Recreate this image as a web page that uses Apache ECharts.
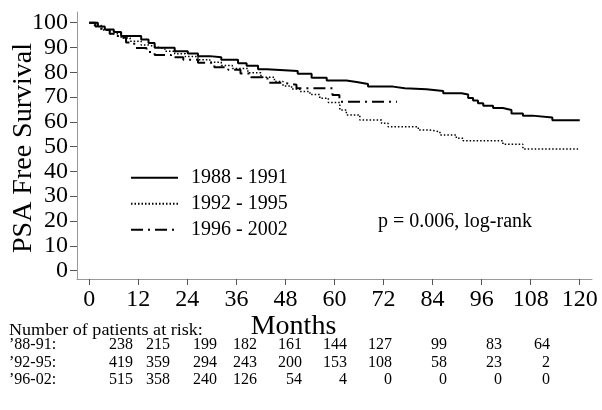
<!DOCTYPE html>
<html>
<head>
<meta charset="utf-8">
<script src="https://cdn.jsdelivr.net/npm/echarts@6/dist/echarts.min.js"></script>
<style>
html,body{margin:0;padding:0;background:#fff;}
#chart{width:602px;height:410px;}
</style>
</head>
<body>
<div id="chart"></div>
<script>
// ---- data ----
const seriesNames = ['1988 - 1991', '1992 - 1995', '1996 - 2002'];
const xTicks = [0, 12, 24, 36, 48, 60, 72, 84, 96, 108, 120];
const yTicks = [0, 10, 20, 30, 40, 50, 60, 70, 80, 90, 100];

// [month, survival %] at each step
const surv8891 = [
  [0,100],[2.1,98.5],[3.8,97.2],[6,96.2],[7.8,94.6],[12.7,93.2],[14.5,91.8],[16,89.9],
  [20.9,88.5],[24.1,87.6],[26.6,86.5],[29.5,86],[32.3,85],[36.4,83.6],[38.5,82.6],
  [41.3,81.2],[43.4,80.5],[51,79.4],[54.4,77.8],[58.1,76.7],[62.9,76.1],[65.4,75.3],
  [68.2,74.2],[74.3,73.5],[77.2,73.1],[82.5,72.4],[86.6,71.5],[91.1,71.0],[92.7,69.6],
  [93.9,68.6],[95.1,67.5],[96.4,66.5],[98.8,65.6],[101.2,64.8],[103.3,63.4],
  [106.1,62.5],[108.4,61.7],[113.3,60.6],[120,60.6]
];
const surv9295 = [
  [0,100],[1,99],[2.9,97],[5,95.5],[7.8,93.8],[10,92.5],[12.7,91],[14.5,90.3],[16,89.5],
  [18.5,88.5],[20.9,87.5],[23.5,86.3],[26.6,85],[29.5,84],[32.3,82.7],[35,81.5],
  [38.8,79.8],[42,78],[45.3,76.3],[47.4,74.5],[49.5,73.2],[51.5,72.2],[54,71],[56.4,69.5],
  [58.5,67.8],[61.3,64.8],[62.9,62.8],[66.2,60.7],[71.5,59.4],[73.1,58.0],[80.5,56.7],
  [83.3,56.0],[85.8,54.7],[89.8,53.4],[91.5,52.4],[101.2,51.0],[106.1,49.0],[119.6,49.0]
];
const surv9602 = [
  [0,100],[1.5,98.5],[3,97],[5,95.5],[7,94],[9,92],[11,89.8],[14,88.2],[16,87],[20,86],
  [23,85],[26.6,83.8],[30.6,82],[34,81],[37,79.5],[39.6,78],[43.6,75.8],[47,75],
  [50.7,73.5],[59.5,70.8],[61.2,68.1],[75.3,68.1]
];

// number at risk table
const riskTitle = 'Number of patients at risk:';
const riskLabels = ['\u201988-91:', '\u201992-95:', '\u201996-02:'];
const risk8891 = [238, 215, 199, 182, 161, 144, 127, 99, 83, 64];
const risk9295 = [419, 359, 294, 243, 200, 153, 108, 58, 23, 2];
const risk9602 = [515, 358, 240, 126, 54, 4, 0, 0, 0, 0];
const pText = 'p = 0.006, log-rank';
const yTitle = 'PSA Free Survival';
const xTitle = 'Months';

// ---- layout ----
const FONT = '"Liberation Serif", "Times New Roman", serif';
const colRight = [133, 170, 217, 257, 302, 347, 392, 447, 502, 550];
const rowY = [345, 362.5, 380];

const graphics = [];
function txt(text, x, y, size, align, extra) {
  return Object.assign({
    type: 'text', x: x, y: y, silent: true,
    style: {
      text: text, fill: '#000', font: size + 'px ' + FONT,
      textAlign: align, textVerticalAlign: 'middle',
      align: align, verticalAlign: 'middle'
    }
  }, extra || {});
}
graphics.push(txt(yTitle, 24, 148, 28, 'center', {rotation: Math.PI / 2}));
graphics.push(txt(xTitle, 293.5, 327, 28, 'center'));
graphics.push(txt(pText, 378, 222, 20, 'left'));
graphics.push(txt(riskTitle, 9, 331, 16, 'left', {scaleX: 1.13}));
[risk8891, risk9295, risk9602].forEach(function (row, r) {
  graphics.push(txt(riskLabels[r], 9, rowY[r], 16, 'left'));
  row.forEach(function (v, c) {
    graphics.push(txt(String(v), colRight[c], rowY[r], 16, 'right'));
  });
});

const chart = echarts.init(document.getElementById('chart'), null, {renderer: 'canvas'});
chart.setOption({
  animation: false,
  backgroundColor: '#fff',
  grid: {left: 77, right: 10, top: 12, bottom: 131, containLabel: false},
  legend: {
    orient: 'vertical', left: 125, top: 162.7,
    itemWidth: 47, itemHeight: 14, itemGap: 6,
    data: seriesNames,
    itemStyle: {opacity: 0, borderWidth: 0},
    textStyle: {fontFamily: FONT, fontSize: 20, color: '#000', padding: [0, 0, 0, 8]}
  },
  xAxis: {
    type: 'value', min: -3, max: 123,
    splitLine: {show: false},
    axisLine: {onZero: false, lineStyle: {color: '#999', width: 1}},
    axisTick: {show: true, length: 6, customValues: xTicks, lineStyle: {color: '#555'}},
    axisLabel: {customValues: xTicks, margin: 9, fontFamily: FONT, fontSize: 24, color: '#000'}
  },
  yAxis: {
    type: 'value', min: -3.4, max: 104.3,
    splitLine: {show: false},
    axisLine: {show: true, onZero: false, lineStyle: {color: '#999', width: 1}},
    axisTick: {show: true, length: 7, customValues: yTicks, lineStyle: {color: '#555'}},
    axisLabel: {customValues: yTicks, margin: 9, fontFamily: FONT, fontSize: 24, color: '#000'}
  },
  series: [
    {name: seriesNames[0], type: 'line', step: 'end', data: surv8891, symbol: 'none',
     lineStyle: {color: '#000', width: 2, type: 'solid'}, itemStyle: {color: '#000'}},
    {name: seriesNames[1], type: 'line', step: 'end', data: surv9295, symbol: 'none',
     lineStyle: {color: '#000', width: 1.5, type: [1.5, 2]}, itemStyle: {color: '#000'}},
    {name: seriesNames[2], type: 'line', step: 'end', data: surv9602, symbol: 'none',
     lineStyle: {color: '#000', width: 2, type: [12, 5, 2, 5]}, itemStyle: {color: '#000'}}
  ],
  graphic: graphics
});
</script>
</body>
</html>
